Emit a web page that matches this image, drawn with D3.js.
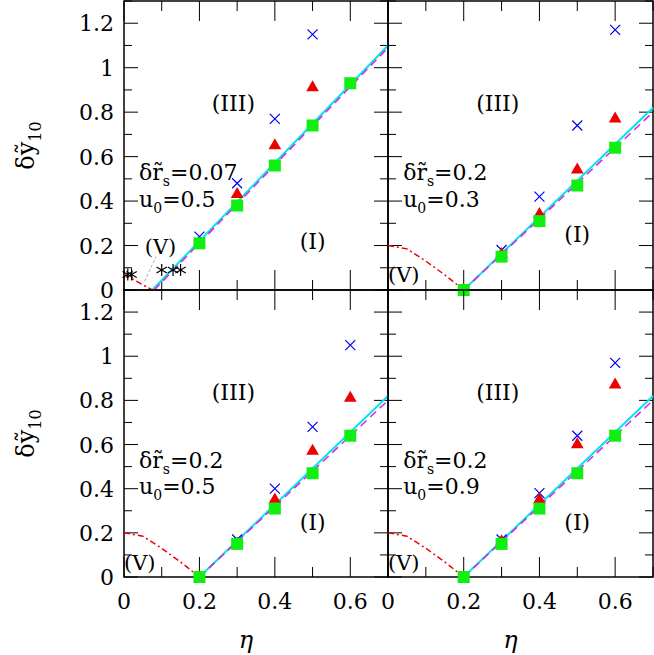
<!DOCTYPE html>
<html><head><meta charset="utf-8">
<script src="https://cdn.jsdelivr.net/npm/d3@7"></script>
<style>body{margin:0;background:#fff}text{font-family:"DejaVu Serif","Liberation Serif",serif}</style>
</head><body><svg id="c" width="654" height="655"></svg>
<script>
// panel data: eta positions and series values
const etaPts = [0.2, 0.3, 0.4, 0.5, 0.6];
const rsLabels = ["0.07", "0.2", "0.2", "0.2"];
const u0Labels = ["0.5", "0.3", "0.5", "0.9"];
const greenVals = [
  [0.21, 0.38, 0.56, 0.74, 0.93],
  [0.0, 0.15, 0.31, 0.47, 0.64],
  [0.0, 0.15, 0.31, 0.47, 0.64],
  [0.0, 0.15, 0.31, 0.47, 0.64]
];
const redEta = [[0.3, 0.4, 0.5], [0.3, 0.4, 0.5, 0.6], [0.3, 0.4, 0.5, 0.6], [0.3, 0.4, 0.5, 0.6]];
const redVals = [[0.43, 0.65, 0.91], [0.16, 0.34, 0.54, 0.77], [0.15, 0.35, 0.57, 0.81], [0.16, 0.35, 0.60, 0.87]];
const blueEta = [[0.2, 0.3, 0.4, 0.5], [0.3, 0.4, 0.5, 0.6], [0.3, 0.4, 0.5, 0.6], [0.3, 0.4, 0.5, 0.6]];
const blueVals = [[0.24, 0.48, 0.77, 1.15], [0.18, 0.42, 0.74, 1.17], [0.17, 0.40, 0.68, 1.05], [0.17, 0.38, 0.64, 0.97]];
const starEta = [0.01, 0.02, 0.1, 0.13, 0.15];
const starVals = [0.07, 0.07, 0.09, 0.09, 0.09];
const cyanLines = [[[0.075, 0], [0.7, 1.1]], [[0.2, 0], [0.7, 0.82]], [[0.2, 0], [0.7, 0.82]], [[0.2, 0], [0.7, 0.82]]];
const magLines = [[[0.08, 0], [0.7, 1.09]], [[0.2, 0], [0.7, 0.8]], [[0.2, 0], [0.7, 0.8]], [[0.2, 0], [0.7, 0.8]]];
const redCurve1 = [[0, 0.07], [0.075, 0]];
const redCurve = [[0, 0.2], [0.05, 0.185], [0.1, 0.13], [0.15, 0.068], [0.2, 0]];
const yTicks = [0, 0.2, 0.4, 0.6, 0.8, 1, 1.2];
const xTicks = [0, 0.2, 0.4, 0.6];

const svg = d3.select("#c");
const panels = [
  { x0: 124, x1: 388, y0: 1, y1: 290 },
  { x0: 388, x1: 653, y0: 1, y1: 290 },
  { x0: 124, x1: 388, y0: 290, y1: 577 },
  { x0: 388, x1: 653, y0: 290, y1: 577 }
];

panels.forEach((p, i) => {
  const x = d3.scaleLinear().domain([0, 0.7]).range([p.x0, p.x1]);
  const y = d3.scaleLinear().domain([0, 1.3]).range([p.y1, p.y0]);
  const g = svg.append("g");
  const left = i % 2 === 0, bottom = i >= 2;

  g.append("rect").attr("x", p.x0).attr("y", p.y0).attr("width", p.x1 - p.x0).attr("height", p.y1 - p.y0)
    .attr("fill", "none").attr("stroke", "#000").attr("stroke-width", 1.5);

  // ticks
  d3.range(0, 1.31, 0.1).forEach(v => {
    const L = Math.round(v * 10) % 2 === 0 ? 14 : 8;
    g.append("line").attr("x1", p.x0).attr("x2", p.x0 + L).attr("y1", y(v)).attr("y2", y(v)).attr("stroke", "#000");
    g.append("line").attr("x1", p.x1).attr("x2", p.x1 - L).attr("y1", y(v)).attr("y2", y(v)).attr("stroke", "#000");
  });
  d3.range(0, 0.71, 0.1).forEach(v => {
    const L = Math.round(v * 10) % 2 === 0 ? 20 : 10;
    g.append("line").attr("x1", x(v)).attr("x2", x(v)).attr("y1", p.y1).attr("y2", p.y1 - L).attr("stroke", "#000");
    g.append("line").attr("x1", x(v)).attr("x2", x(v)).attr("y1", p.y0).attr("y2", p.y0 + L).attr("stroke", "#000");
  });
  if (left) {
    yTicks.forEach(v => g.append("text").attr("x", p.x0 - 10).attr("y", y(v) + 8).attr("text-anchor", "end")
      .attr("font-size", 22).text(d3.format("~g")(v)));
    g.append("text").attr("transform", `translate(34,${(p.y0 + p.y1) / 2}) rotate(-90)`).attr("text-anchor", "middle")
      .attr("font-size", 24).html('δ<tspan>ỹ</tspan><tspan font-size="16" dy="7">10</tspan>');
  }
  if (bottom) {
    xTicks.forEach(v => g.append("text").attr("x", x(v)).attr("y", p.y1 + 32).attr("text-anchor", "middle")
      .attr("font-size", 22).text(d3.format("~g")(v)));
    g.append("text").attr("x", (p.x0 + p.x1) / 2 - 10).attr("y", p.y1 + 71).attr("text-anchor", "middle")
      .attr("font-size", 24).attr("font-style", "italic").text("η");
  }

  const line = d3.line().x(d => x(d[0])).y(d => y(d[1]));
  const rc = i === 0 ? redCurve1 : redCurve;
  g.append("path").attr("d", line(rc)).attr("fill", "none").attr("stroke", "#e00").attr("stroke-width", 1.5).attr("stroke-dasharray", "6,3,2,3");
  g.append("path").attr("d", line(cyanLines[i])).attr("fill", "none").attr("stroke", "#00e5ee").attr("stroke-width", 2);
  g.append("path").attr("d", line(magLines[i])).attr("fill", "none").attr("stroke", "#e020e0").attr("stroke-width", 1.5).attr("stroke-dasharray", "8,5");

  if (i === 0) {
    g.append("line").attr("x1", x(0.055)).attr("y1", y(0.04)).attr("x2", x(0.085)).attr("y2", y(0.15))
      .attr("stroke", "#888").attr("stroke-width", 0.7).attr("stroke-dasharray", "3,2");
    starEta.forEach((e, k) => {
      const cx = x(e), cy = y(starVals[i === 0 ? k : k]), s = 6;
      let d = `M${cx},${cy - s}L${cx},${cy + s}`;
      [30, 150].forEach(a => {
        const r = a * Math.PI / 180;
        d += `M${cx - s * Math.cos(r)},${cy - s * Math.sin(r)}L${cx + s * Math.cos(r)},${cy + s * Math.sin(r)}`;
      });
      g.append("path").attr("d", d).attr("stroke", "#000").attr("stroke-width", 1.2);
    });
  }

  // blue crosses
  blueEta[i].forEach((e, k) => {
    const cx = x(e), cy = y(blueVals[i][k]), s = 5;
    g.append("path").attr("d", `M${cx - s},${cy - s}L${cx + s},${cy + s}M${cx - s},${cy + s}L${cx + s},${cy - s}`)
      .attr("stroke", "#0000ee").attr("stroke-width", 1.2);
  });
  // red triangles
  redEta[i].forEach((e, k) => {
    g.append("path").attr("transform", `translate(${x(e)},${y(redVals[i][k])})`)
      .attr("d", d3.symbol(d3.symbolTriangle, 70)()).attr("fill", "#e00");
  });
  // green squares
  etaPts.forEach((e, k) => {
    g.append("rect").attr("x", x(e) - 6).attr("y", y(greenVals[i][k]) - 6).attr("width", 12).attr("height", 12).attr("fill", "#11ee11");
  });

  // annotations
  g.append("text").attr("x", x(0.29)).attr("y", y(0.84) + 8).attr("text-anchor", "middle").attr("font-size", 22).text("(III)");
  g.append("text").attr("x", x(0.5)).attr("y", y(i === 0 ? 0.22 : 0.25) + 8).attr("text-anchor", "middle").attr("font-size", 22).text("(I)");
  if (i === 0) g.append("text").attr("x", x(0.055)).attr("y", y(0.2) + 8).attr("font-size", 21).text("(V)");
  else g.append("text").attr("x", x(0.0)).attr("y", y(0.07) + 8).attr("font-size", 21).text("(V)");
  g.append("text").attr("x", x(0.04)).attr("y", y(0.53) + 8).attr("font-size", 22)
    .html(`δr̃<tspan font-size="14" dy="6">s</tspan><tspan dy="-6">=${rsLabels[i]}</tspan>`);
  g.append("text").attr("x", x(0.04)).attr("y", y(0.41) + 8).attr("font-size", 22)
    .html(`u<tspan font-size="14" dy="6">0</tspan><tspan dy="-6">=${u0Labels[i]}</tspan>`);
});
</script></body></html>
